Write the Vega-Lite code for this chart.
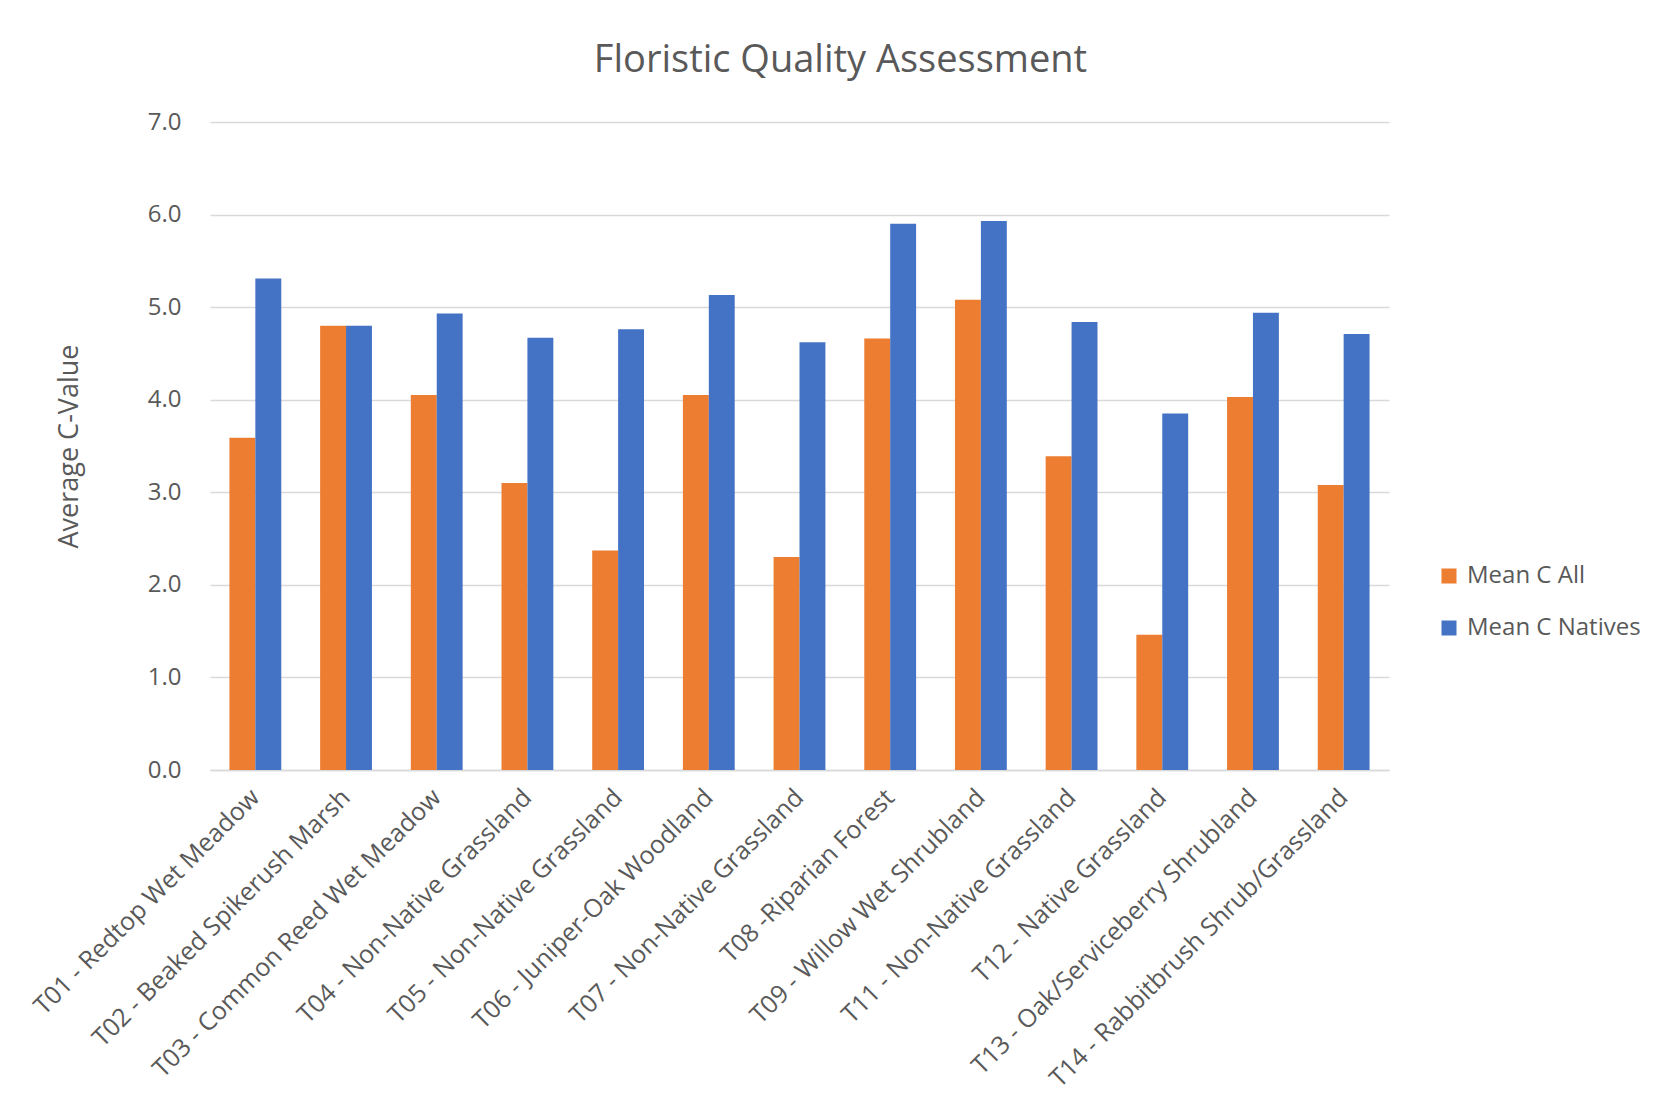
{
  "$schema": "https://vega.github.io/schema/vega-lite/v6.json",
  "width": 1179,
  "height": 648,
  "autosize": "none",
  "padding": {"left": 210, "top": 122, "right": 280, "bottom": 340},
  "background": "white",
  "title": {
    "text": "Floristic Quality Assessment",
    "font": "Open Sans",
    "fontSize": 38,
    "fontWeight": "normal",
    "color": "#595959",
    "anchor": "middle",
    "dx": 41,
    "offset": 30
  },
  "data": {
    "values": [
      {"site": "T01 - Redtop Wet Meadow", "series": "Mean C All", "value": 3.59},
      {"site": "T01 - Redtop Wet Meadow", "series": "Mean C Natives", "value": 5.31},
      {"site": "T02 - Beaked Spikerush Marsh", "series": "Mean C All", "value": 4.8},
      {"site": "T02 - Beaked Spikerush Marsh", "series": "Mean C Natives", "value": 4.8},
      {"site": "T03 - Common Reed Wet Meadow", "series": "Mean C All", "value": 4.05},
      {"site": "T03 - Common Reed Wet Meadow", "series": "Mean C Natives", "value": 4.93},
      {"site": "T04 - Non-Native Grassland", "series": "Mean C All", "value": 3.1},
      {"site": "T04 - Non-Native Grassland", "series": "Mean C Natives", "value": 4.67},
      {"site": "T05 - Non-Native Grassland", "series": "Mean C All", "value": 2.37},
      {"site": "T05 - Non-Native Grassland", "series": "Mean C Natives", "value": 4.76},
      {"site": "T06 - Juniper-Oak Woodland", "series": "Mean C All", "value": 4.05},
      {"site": "T06 - Juniper-Oak Woodland", "series": "Mean C Natives", "value": 5.13},
      {"site": "T07 - Non-Native Grassland", "series": "Mean C All", "value": 2.3},
      {"site": "T07 - Non-Native Grassland", "series": "Mean C Natives", "value": 4.62},
      {"site": "T08 -Riparian Forest", "series": "Mean C All", "value": 4.66},
      {"site": "T08 -Riparian Forest", "series": "Mean C Natives", "value": 5.9},
      {"site": "T09 - Willow Wet Shrubland", "series": "Mean C All", "value": 5.08},
      {"site": "T09 - Willow Wet Shrubland", "series": "Mean C Natives", "value": 5.93},
      {"site": "T11 - Non-Native Grassland", "series": "Mean C All", "value": 3.39},
      {"site": "T11 - Non-Native Grassland", "series": "Mean C Natives", "value": 4.84},
      {"site": "T12 - Native Grassland", "series": "Mean C All", "value": 1.46},
      {"site": "T12 - Native Grassland", "series": "Mean C Natives", "value": 3.85},
      {"site": "T13 - Oak/Serviceberry Shrubland", "series": "Mean C All", "value": 4.03},
      {"site": "T13 - Oak/Serviceberry Shrubland", "series": "Mean C Natives", "value": 4.94},
      {"site": "T14 - Rabbitbrush Shrub/Grassland", "series": "Mean C All", "value": 3.08},
      {"site": "T14 - Rabbitbrush Shrub/Grassland", "series": "Mean C Natives", "value": 4.71}
    ]
  },
  "mark": {"type": "bar"},
  "encoding": {
    "x": {
      "field": "site",
      "type": "nominal",
      "sort": null,
      "scale": {"paddingInner": 0.4286, "paddingOuter": 0.2143},
      "axis": {
        "title": null,
        "labelAngle": -45,
        "labelAlign": "right",
        "labelBaseline": "middle",
        "labelFontSize": 25,
        "labelPadding": 23,
        "labelLimit": 0,
        "ticks": false,
        "domainColor": "#d9d9d9",
        "domainWidth": 1.5,
        "grid": false
      }
    },
    "xOffset": {
      "field": "series",
      "type": "nominal",
      "sort": ["Mean C All", "Mean C Natives"],
      "scale": {"paddingInner": 0, "paddingOuter": 0}
    },
    "y": {
      "field": "value",
      "type": "quantitative",
      "scale": {"domain": [0, 7], "nice": false},
      "axis": {
        "title": "Average C-Value",
        "titleFontSize": 27,
        "titleFontWeight": "normal",
        "titlePadding": 64,
        "values": [0, 1, 2, 3, 4, 5, 6, 7],
        "format": ".1f",
        "labelFontSize": 24,
        "labelPadding": 29,
        "domain": false,
        "ticks": false,
        "grid": true,
        "gridColor": "#d9d9d9",
        "gridWidth": 1.5
      }
    },
    "color": {
      "field": "series",
      "type": "nominal",
      "scale": {"domain": ["Mean C All", "Mean C Natives"], "range": ["#ED7D31", "#4472C4"]},
      "legend": {
        "title": null,
        "orient": "none",
        "legendX": 1227,
        "legendY": 442,
        "padding": 0,
        "symbolType": "square",
        "symbolSize": 225,
        "symbolStrokeWidth": 0,
        "labelFontSize": 24,
        "labelOffset": 6,
        "labelLimit": 0,
        "rowPadding": 28
      }
    }
  },
  "config": {
    "font": "Open Sans",
    "axis": {"labelColor": "#595959", "titleColor": "#595959", "labelFont": "Open Sans", "titleFont": "Open Sans"},
    "legend": {"labelColor": "#595959", "labelFont": "Open Sans"},
    "view": {"stroke": null}
  }
}
